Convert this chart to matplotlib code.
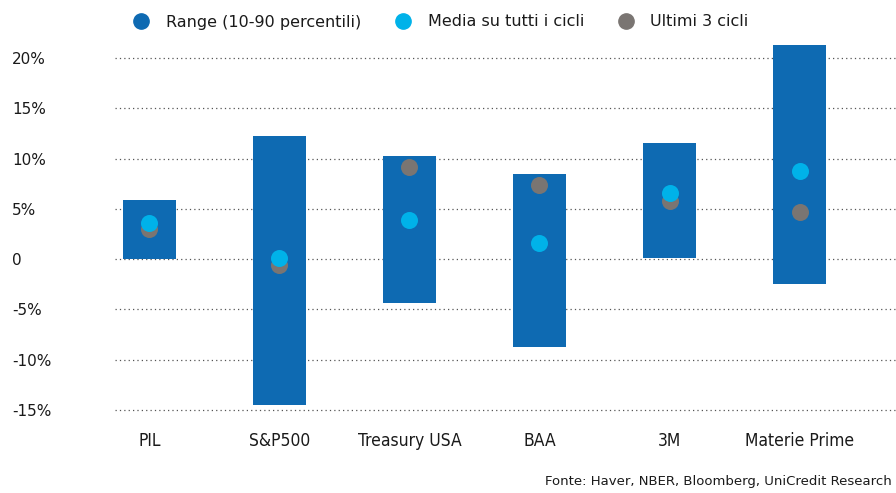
import matplotlib
matplotlib.use("Agg")
import matplotlib.pyplot as plt
from matplotlib.lines import Line2D

categories = ["PIL", "S&P500", "Treasury USA", "BAA", "3M", "Materie Prime"]
range_low = [0.0, -14.5, -4.4, -8.7, 0.1, -2.5]
range_high = [5.9, 12.2, 10.3, 8.5, 11.6, 21.3]
media_all = [3.6, 0.1, 3.9, 1.6, 6.6, 8.8]
last3 = [3.0, -0.6, 9.2, 7.4, 5.8, 4.7]
yticks = [20, 15, 10, 5, 0, -5, -10, -15]
ytick_labels = ["20%", "15%", "10%", "5%", "0", "-5%", "-10%", "-15%"]
legend_labels = ["Range (10-90 percentili)", "Media su tutti i cicli", "Ultimi 3 cicli"]
source = "Fonte: Haver, NBER, Bloomberg, UniCredit Research"

c_bar = "#0E6AB2"
c_mean = "#00B2E9"
c_last = "#7A7572"
txt = "#1a1a1a"

W, H = 896, 493
fig = plt.figure(figsize=(W / 100, H / 100), dpi=100)
ax = fig.add_axes([115 / W, (H - 420) / H, (896 - 115) / W, (420 - 45) / H])

x = list(range(len(categories)))
heights = [h - l for h, l in zip(range_high, range_low)]
ax.bar(x, heights, bottom=range_low, width=0.41, color=c_bar, zorder=2)
ax.scatter(x, last3, s=150, color=c_last, zorder=3, linewidths=0)
ax.scatter(x, media_all, s=150, color=c_mean, zorder=4, linewidths=0)

ax.set_xlim(-0.265, 5.742)
ax.set_ylim(-16.0, 21.3)
ax.set_yticks(yticks)
ax.set_yticklabels(ytick_labels, ha="left", fontsize=11, color=txt)
ax.tick_params(axis="y", length=0, pad=74)
ax.set_xticks(x)
ax.set_xticklabels(categories, fontsize=12.5, color=txt, fontstretch="condensed")
ax.tick_params(axis="x", length=0, pad=9)
ax.grid(axis="y", linestyle=(0, (1, 2.5)), color="#555555", linewidth=0.9)
ax.set_axisbelow(True)
for s in ax.spines.values():
    s.set_visible(False)

handles = [Line2D([], [], marker="o", linestyle="none", markersize=11,
                  markerfacecolor=c, markeredgecolor=c)
           for c in (c_bar, c_mean, c_last)]
fig.legend(handles, legend_labels, loc="center", ncol=3,
           bbox_to_anchor=(437 / W, 1 - 22 / H), frameon=False,
           fontsize=11.5, handletextpad=0.55, columnspacing=1.6,
           labelcolor=txt)

fig.text(545 / W, 1 - 482 / H, source, fontsize=9.5, color=txt,
         ha="left", va="center")

fig.savefig("out.png", dpi=100)
